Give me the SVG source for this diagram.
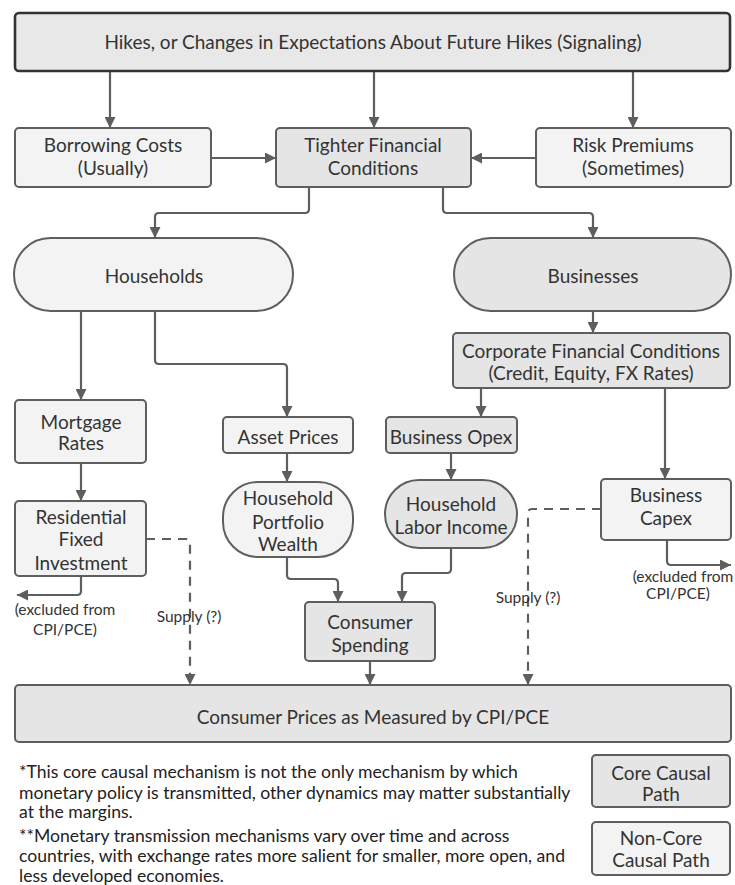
<svg xmlns="http://www.w3.org/2000/svg" width="735" height="885" viewBox="0 0 735 885">
<style>
.n{stroke:#5e5e5e;stroke-width:2}
.core{fill:#e5e5e5}
.nc{fill:#f3f3f3}
.t{font-family:Lato,"Liberation Sans",sans-serif;font-size:19px;fill:#333;text-anchor:middle}
.s{font-family:Lato,"Liberation Sans",sans-serif;font-size:15.5px;fill:#333;text-anchor:middle}
.f{font-family:Lato,"Liberation Sans",sans-serif;font-size:17.6px;fill:#222}
.c path{fill:none;stroke:#5e5e5e;stroke-width:2.2;marker-end:url(#ah)}
.c path.d{stroke-dasharray:9 7}
</style>
<defs>
<marker id="ah" viewBox="0 0 10 10" refX="10" refY="5" markerWidth="5.5" markerHeight="5" orient="auto" markerUnits="strokeWidth">
<path d="M0 0L10 5L0 10z" fill="#5e5e5e"/>
</marker>
</defs>
<rect width="735" height="885" fill="#fff"/>
<g class="c" id="connectors">
<path d="M110 71V128"/>
<path d="M374 71V128"/>
<path d="M633 71V128"/>
<path d="M211 158H276"/>
<path d="M536 158H471"/>
<path d="M309 187V209Q309 213 305 213H159Q155 213 155 217V238"/>
<path d="M443 187V209Q443 213 447 213H589Q593 213 593 217V238"/>
<path d="M81 311V400"/>
<path d="M155 311V360Q155 364 159 364H283Q287 364 287 368V417"/>
<path d="M593 311V333"/>
<path d="M481 388V417"/>
<path d="M665 388V479"/>
<path d="M81 463V501"/>
<path d="M287 453V482"/>
<path d="M451 453V480"/>
<path d="M81 576V591Q81 595 77 595H17"/>
<path d="M287 557V575Q287 579 291 579H334Q338 579 338 583V602"/>
<path d="M451 548V569Q451 573 447 573H406Q402 573 402 577V602"/>
<path d="M667 540V561Q667 565 671 565H731"/>
<path d="M370 661V685"/>
<path class="d" d="M146 539H186Q190 539 190 543V685"/>
<path class="d" d="M601 509H532Q528 509 528 513V685"/>
</g>
<g id="edge-labels">
<text class="s" x="65" y="615">(excluded from</text>
<text class="s" x="65" y="635">CPI/PCE)</text>
<text class="s" x="189" y="622">Supply (?)</text>
<text class="s" x="528" y="603">Supply (?)</text>
<text class="s" x="683" y="582">(excluded from</text>
<text class="s" x="678" y="599">CPI/PCE)</text>
</g>
<g id="top"><rect x="15" y="13" width="715" height="58" rx="4" fill="#e8e8e8" stroke="#333" stroke-width="2.6"/><text class="t" x="373" y="49">Hikes, or Changes in Expectations About Future Hikes (Signaling)</text></g>
<g id="borrowing"><rect class="n nc" x="15" y="128" width="196" height="59" rx="4"/><text class="t" x="113" y="152">Borrowing Costs</text><text class="t" x="113" y="175">(Usually)</text></g>
<g id="tighter"><rect class="n core" x="276" y="128" width="195" height="59" rx="4"/><text class="t" x="373" y="152">Tighter Financial</text><text class="t" x="373" y="175">Conditions</text></g>
<g id="risk"><rect class="n nc" x="536" y="128" width="195" height="59" rx="4"/><text class="t" x="633" y="152">Risk Premiums</text><text class="t" x="633" y="175">(Sometimes)</text></g>
<g id="households"><rect class="n nc" x="14" y="238" width="279" height="73" rx="36.5"/><text class="t" x="154" y="283">Households</text></g>
<g id="businesses"><rect class="n core" x="454" y="238" width="277" height="73" rx="36.5"/><text class="t" x="593" y="283">Businesses</text></g>
<g id="corporate"><rect class="n core" x="453" y="333" width="277" height="55" rx="4"/><text class="t" x="591" y="358">Corporate Financial Conditions</text><text class="t" x="591" y="380">(Credit, Equity, FX Rates)</text></g>
<g id="mortgage"><rect class="n nc" x="15" y="400" width="131" height="63" rx="4"/><text class="t" x="81" y="429">Mortgage</text><text class="t" x="81" y="450">Rates</text></g>
<g id="residential"><rect class="n nc" x="15" y="501" width="131" height="75" rx="4"/><text class="t" x="81" y="524">Residential</text><text class="t" x="81" y="546">Fixed</text><text class="t" x="81" y="570">Investment</text></g>
<g id="asset"><rect class="n nc" x="223" y="417" width="130" height="36" rx="4"/><text class="t" x="288" y="444">Asset Prices</text></g>
<g id="portfolio"><rect class="n nc" x="223" y="482" width="130" height="75" rx="35"/><text class="t" x="288" y="505">Household</text><text class="t" x="288" y="529">Portfolio</text><text class="t" x="288" y="551">Wealth</text></g>
<g id="opex"><rect class="n core" x="386" y="417" width="131" height="36" rx="4"/><text class="t" x="451" y="444">Business Opex</text></g>
<g id="labor"><rect class="n core" x="385" y="480" width="132" height="68" rx="34"/><text class="t" x="451" y="511">Household</text><text class="t" x="451" y="534">Labor Income</text></g>
<g id="capex"><rect class="n nc" x="601" y="479" width="130" height="61" rx="4"/><text class="t" x="666" y="502">Business</text><text class="t" x="666" y="525">Capex</text></g>
<g id="spending"><rect class="n core" x="305" y="602" width="130" height="59" rx="4"/><text class="t" x="370" y="629">Consumer</text><text class="t" x="370" y="652">Spending</text></g>
<g id="prices"><rect class="n core" x="15" y="685" width="716" height="57" rx="4"/><text class="t" x="373" y="724">Consumer Prices as Measured by CPI/PCE</text></g>
<g id="notes">
<text class="f" x="19" y="778">*This core causal mechanism is not the only mechanism by which</text>
<text class="f" x="19" y="799">monetary policy is transmitted, other dynamics may matter substantially</text>
<text class="f" x="19" y="818">at the margins.</text>
<text class="f" x="19" y="842">**Monetary transmission mechanisms vary over time and across</text>
<text class="f" x="19" y="862">countries, with exchange rates more salient for smaller, more open, and</text>
<text class="f" x="19" y="882">less developed economies.</text>
</g>
<g id="legend-core"><rect class="n core" x="592" y="755" width="138" height="52" rx="4"/><text class="t" x="661" y="780">Core Causal</text><text class="t" x="661" y="801">Path</text></g>
<g id="legend-noncore"><rect class="n nc" x="592" y="822" width="138" height="53" rx="4"/><text class="t" x="661" y="845">Non-Core</text><text class="t" x="661" y="867">Causal Path</text></g>
</svg>
